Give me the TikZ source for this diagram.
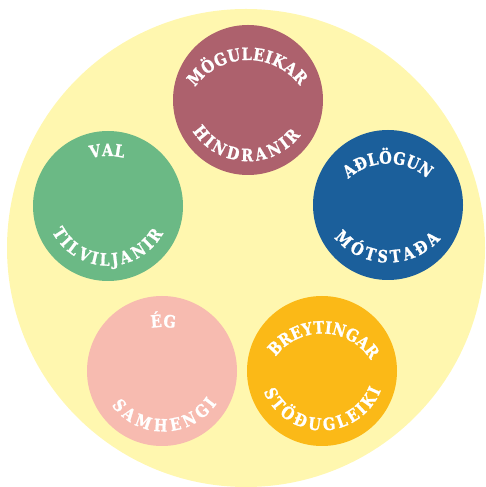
\documentclass[tikz,border=0pt]{standalone}
\usepackage{fontspec}
\setmainfont{DejaVu Serif}
\newfontfamily\lblfam{DejaVu Serif}[FakeStretch=0.85, FakeBold=1.2]
\usetikzlibrary{decorations.text,calc}
\definecolor{bgyellow}{HTML}{FFF7AF}
\definecolor{cmauve}{HTML}{AD616D}
\definecolor{cgreen}{HTML}{6BB985}
\definecolor{cblue}{HTML}{1B5F9B}
\definecolor{cpink}{HTML}{F7BBB0}
\definecolor{corange}{HTML}{FBB917}
\newcommand{\lblfont}{\lblfam\fontsize{17}{20}\selectfont\bfseries}
\tikzset{
  disc/.style={circle, minimum size=150pt, inner sep=0pt, draw=none},
  arctext/.style 2 args={decorate, decoration={text along path,
      text align=fit to path, raise=#2,
      text color=white, text={|\lblfont|#1}}},
}
\begin{document}
\begin{tikzpicture}[x=1pt,y=1pt]
\useasboundingbox (0,0) rectangle (485,487);
\fill[bgyellow] (246,239) circle[radius=239];
% discs
\node[disc, fill=cmauve]  (mauve)  at (248,387) {};
\node[disc, fill=cgreen]  (green)  at (108,281) {};
\node[disc, fill=cblue]   (blue)   at (388,282) {};
\node[disc, fill=cpink]   (pink)   at (162,116) {};
\node[disc, fill=corange] (orange) at (322,116) {};
% mauve
\path[arctext={MÖGULEIKAR}{0pt}] ($(248,362)+(144.5:65)$) arc[start angle=144.5, end angle=37, radius=65];
\path[arctext={HINDRANIR}{-12.2pt}] ($(248,392)+(211.7:54)$) arc[start angle=211.7, end angle=323.7, radius=54];
% green
\path[arctext={VAL}{0pt}] ($(108,266)+(105.5:65)$) arc[start angle=105.5, end angle=76, radius=65];
\path[arctext={TILVILJANIR}{-12.2pt}] ($(108,284.5)+(206.5:51)$) arc[start angle=206.5, end angle=332, radius=51];
% blue
\path[arctext={AÐLÖGUN}{0pt}] ($(388,264.4)+(132.2:59)$) arc[start angle=132.2, end angle=48.2, radius=59];
\path[arctext={MÓTSTAÐA}{-12.2pt}] ($(388,294.6)+(218.6:58)$) arc[start angle=218.6, end angle=319.3, radius=58];
% pink
\path[arctext={ÉG}{0pt}] ($(162,101)+(100.5:59)$) arc[start angle=100.5, end angle=77.2, radius=59];
\path[arctext={SAMHENGI}{-12.2pt}] ($(163.5,120.3)+(215.6:52.5)$) arc[start angle=215.6, end angle=326.1, radius=52.5];
% orange
\path[arctext={BREYTINGAR}{0pt}] ($(322,95.5)+(143.2:58)$) arc[start angle=143.2, end angle=36.2, radius=58];
\path[arctext={STÖÐUGLEIKI}{-12.2pt}] ($(322,119.75)+(201.5:51)$) arc[start angle=201.5, end angle=339.5, radius=51];
\end{tikzpicture}
\end{document}
